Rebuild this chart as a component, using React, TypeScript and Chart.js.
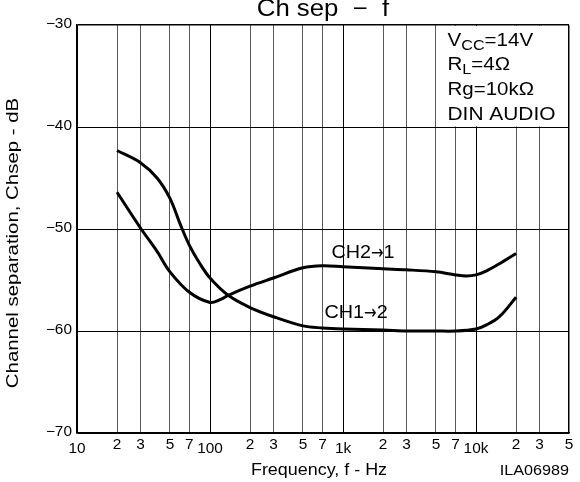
import React, { useEffect, useRef } from "react";
import { Chart, registerables } from "chart.js";

Chart.register(...registerables);

// ---- data ----
const ch12Freq = [20, 30, 40, 50, 60, 70, 84, 100, 137, 200, 300, 500, 700, 1000, 2000, 3000, 5000, 7000, 10000, 12000, 15000, 20000];
const ch12Db = [-42.3, -43.5, -45.0, -47.0, -49.6, -51.6, -53.4, -54.8, -56.5, -57.7, -58.6, -59.5, -59.7, -59.8, -59.9, -60.0, -60.0, -60.0, -59.8, -59.4, -58.6, -56.7];

const ch21Freq = [20, 30, 40, 50, 70, 100, 120, 137, 200, 300, 500, 700, 1000, 2000, 3000, 5000, 7000, 8500, 10000, 12000, 15000, 20000];
const ch21Db = [-46.4, -49.9, -52.2, -54.2, -56.2, -57.2, -56.9, -56.5, -55.6, -54.8, -53.8, -53.6, -53.7, -53.9, -54.0, -54.2, -54.5, -54.6, -54.5, -54.1, -53.4, -52.4];

const xTickValues = [10, 20, 30, 50, 70, 100, 200, 300, 500, 700, 1000, 2000, 3000, 5000, 7000, 10000, 20000, 30000, 50000];
const xTickLabels = ["10", "2", "3", "5", "7", "100", "2", "3", "5", "7", "1k", "2", "3", "5", "7", "10k", "2", "3", "5"];
const xMajorTicks = [10, 100, 1000, 10000];

const yTickValues = [-30, -40, -50, -60, -70];
const yTickLabels = ["\u221230", "\u221240", "\u221250", "\u221260", "\u221270"];

const titleText = "Ch sep  \u2212  f";
const xTitle = "Frequency, f - Hz";
const yTitle = "Channel separation, Chsep - dB";
const figureId = "ILA06989";

// curve labels: [before arrow, after arrow]
const curveLabelParts = [["CH2", "1"], ["CH1", "2"]];
const curveLabelFreq = [1413, 1253];
const curveLabelDb = [-52.25, -58.1];

const boxLeftFreq = 5500;
const boxBottomDb = -40;

const FONT = '"Liberation Sans", Arial, Helvetica, sans-serif';
const ARROW_FONT = '"DejaVu Sans", sans-serif';

function txt(ctx: CanvasRenderingContext2D, s: string, x: number, y: number, size: number, align: CanvasTextAlign = "left", baseline: CanvasTextBaseline = "alphabetic", sx = 1.1, family = FONT) {
  ctx.save();
  ctx.font = `${size}px ${family}`;
  ctx.textAlign = align;
  ctx.textBaseline = baseline;
  ctx.fillStyle = "#000";
  ctx.translate(x, y);
  ctx.scale(sx, 1);
  ctx.fillText(s, 0, 0);
  ctx.restore();
}

function measure(ctx: CanvasRenderingContext2D, s: string, size: number, sx = 1.1, family = FONT) {
  ctx.save();
  ctx.font = `${size}px ${family}`;
  const w = ctx.measureText(s).width * sx;
  ctx.restore();
  return w;
}

const decorPlugin = {
  id: "decor",
  beforeDatasetsDraw(chart: any) {
    const { ctx, chartArea, scales } = chart;
    const x0 = scales.x.getPixelForValue(boxLeftFreq);
    const y1 = scales.y.getPixelForValue(boxBottomDb);
    ctx.save();
    ctx.fillStyle = "#fff";
    ctx.fillRect(x0, chartArea.top + 1, chartArea.right - 1 - x0, y1 - 0.6 - (chartArea.top + 1));
    ctx.restore();
  },
  afterDatasetsDraw(chart: any) {
    const { ctx, chartArea, scales } = chart;
    const xs = scales.x;
    const ys = scales.y;
    xTickValues.forEach((v, i) => {
      const px = xs.getPixelForValue(v);
      const major = xMajorTicks.includes(v);
      txt(ctx, xTickLabels[i], px, chartArea.bottom + (major ? 16 : 12), 14, "center", "middle", 1.1);
    });
    yTickValues.forEach((v, i) => {
      const py = ys.getPixelForValue(v);
      txt(ctx, yTickLabels[i], chartArea.left - 5, py - 1, 14, "right", "middle", 1.1);
    });
    txt(ctx, titleText, (chartArea.left + chartArea.right) / 2, 16, 23, "center", "alphabetic", 1.12);
    txt(ctx, xTitle, (chartArea.left + chartArea.right) / 2 - 4, chartArea.bottom + 38, 16, "center", "middle", 1.12);
    txt(ctx, figureId, chartArea.right, chartArea.bottom + 38, 15, "right", "middle", 1.08);
    ctx.save();
    ctx.translate(13, (chartArea.top + chartArea.bottom) / 2 + 14);
    ctx.rotate(-Math.PI / 2);
    txt(ctx, yTitle, 0, 0, 17, "center", "middle", 1.2);
    ctx.restore();
    curveLabelParts.forEach((parts, i) => {
      const cx = xs.getPixelForValue(curveLabelFreq[i]);
      const cy = ys.getPixelForValue(curveLabelDb[i]) + 6;
      const w1 = measure(ctx, parts[0], 18, 1.1);
      const wa = measure(ctx, "\u2192", 20, 0.75, ARROW_FONT);
      const w2 = measure(ctx, parts[1], 18, 1.1);
      let x = cx - (w1 + wa + w2) / 2;
      txt(ctx, parts[0], x, cy, 18, "left", "alphabetic", 1.1);
      x += w1;
      txt(ctx, "\u2192", x, cy - 4, 20, "left", "middle", 0.75, ARROW_FONT);
      x += wa;
      txt(ctx, parts[1], x, cy, 18, "left", "alphabetic", 1.1);
    });
    const bx = xs.getPixelForValue(boxLeftFreq) + 6;
    const top = chartArea.top;
    let x = bx;
    txt(ctx, "V", x, top + 21, 19, "left", "alphabetic", 1.08);
    x += measure(ctx, "V", 19, 1.08);
    txt(ctx, "CC", x, top + 25, 15, "left", "alphabetic", 1.08);
    x += measure(ctx, "CC", 15, 1.08);
    txt(ctx, "=14V", x, top + 21, 19, "left", "alphabetic", 1.08);
    x = bx;
    txt(ctx, "R", x, top + 45, 19, "left", "alphabetic", 1.08);
    x += measure(ctx, "R", 19, 1.08);
    txt(ctx, "L", x, top + 49, 15, "left", "alphabetic", 1.08);
    x += measure(ctx, "L", 15, 1.08);
    txt(ctx, "=4\u03A9", x, top + 45, 19, "left", "alphabetic", 1.08);
    txt(ctx, "Rg=10k\u03A9", bx, top + 70, 19, "left", "alphabetic", 1.08);
    txt(ctx, "DIN AUDIO", bx, top + 95, 19, "left", "alphabetic", 1.1);
  },
};

export default function App() {
  const ref = useRef<HTMLCanvasElement | null>(null);
  useEffect(() => {
    document.body.style.margin = "0";
    const canvas = ref.current;
    if (!canvas) return;
    const chart = new Chart(canvas, {
      type: "line",
      data: {
        datasets: [
          {
            label: "CH1→2",
            data: ch12Freq.map((f, i) => ({ x: f, y: ch12Db[i] })),
            borderColor: "#000",
            borderWidth: 3,
            pointRadius: 0,
            fill: false,
            tension: 0.35,
          },
          {
            label: "CH2→1",
            data: ch21Freq.map((f, i) => ({ x: f, y: ch21Db[i] })),
            borderColor: "#000",
            borderWidth: 3,
            pointRadius: 0,
            fill: false,
            tension: 0.35,
          },
        ],
      },
      options: {
        responsive: true,
        maintainAspectRatio: false,
        animation: false,
        layout: { padding: { left: 77, top: 25, right: 11, bottom: 49 } },
        plugins: { legend: { display: false }, tooltip: { enabled: false }, title: { display: false } },
        scales: {
          x: {
            type: "logarithmic",
            min: 10,
            max: 50000,
            afterBuildTicks: (scale: any) => {
              scale.ticks = xTickValues.map((v) => ({ value: v }));
            },
            ticks: { display: false },
            grid: {
              drawTicks: false,
              color: (c: any) => {
                const v = c.tick ? c.tick.value : 0;
                return xMajorTicks.includes(v) || v === 50000 ? "#000" : "#5a5a5a";
              },
              lineWidth: (c: any) => {
                const v = c.tick ? c.tick.value : 0;
                return v === 50000 ? 1.5 : 1;
              },
            },
            border: { display: true, color: "#000", width: 1.5 },
          },
          y: {
            type: "linear",
            min: -70,
            max: -30,
            afterBuildTicks: (scale: any) => {
              scale.ticks = yTickValues.map((v) => ({ value: v }));
            },
            ticks: { display: false },
            grid: {
              drawTicks: false,
              color: "#000",
              lineWidth: (c: any) => (c.tick && c.tick.value === -30 ? 1.5 : 1),
            },
            border: { display: true, color: "#000", width: 1.5 },
          },
        },
      },
      plugins: [decorPlugin],
    } as any);
    return () => chart.destroy();
  }, []);
  return (
    <div style={{ position: "relative", width: "580px", height: "482px", background: "#fff" }}>
      <canvas ref={ref} />
    </div>
  );
}
